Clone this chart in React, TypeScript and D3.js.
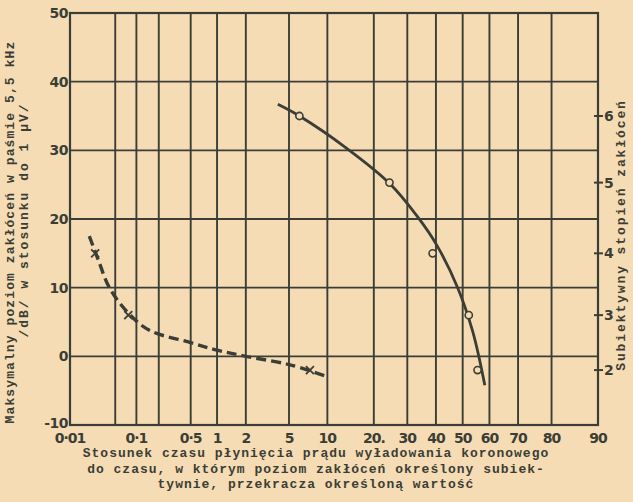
import * as d3 from "d3";

// x axis is a probability (probit) scale, values in percent
const xTicks = [0.01, 0.05, 0.1, 0.2, 0.5, 1, 2, 5, 10, 20, 30, 40, 50, 60, 70, 80, 90];
const xTickLabels: Record<number, string> = {
  0.01: "0·01", 0.1: "0·1", 0.5: "0·5", 1: "1", 2: "2", 5: "5", 10: "10",
  20: "20.", 30: "30", 40: "40", 50: "50", 60: "60", 70: "70", 80: "80", 90: "90",
};
const yTicks = [-10, 0, 10, 20, 30, 40, 50];

// right axis: subjective level -> dB equivalent on left axis
const rightLevels = [2, 3, 4, 5, 6];
const rightDb = [-2, 6, 15, 25.3, 35];

// solid curve (percent, dB)
const solidPct = [4.0, 6.1, 13.6, 24.4, 33.5, 40.3, 48.1, 53.8, 58.3];
const solidDb = [36.7, 35.0, 30.3, 25.2, 20.3, 16.2, 10.0, 3.6, -4.2];
// circles
const circlePct = [6.1, 24.4, 38.8, 52.3, 55.6];
const circleDb = [35, 25.3, 15, 6, -2];

// dashed curve
const dashPct = [0.0203, 0.028, 0.041, 0.077, 0.15, 0.5, 1.0, 2.0, 5.0, 9.5];
const dashDb = [17.5, 14.0, 10.0, 6.3, 3.8, 2.0, 0.9, 0.0, -1.2, -2.8];
// crosses
const crossPct = [0.025, 0.077, 7.4];
const crossDb = [15, 6, -2];

const caption = [
  "Stosunek czasu płynięcia prądu wyładowania koronowego",
  "do czasu, w którym poziom zakłóceń określony subiek-",
  "tywnie, przekracza określoną wartość",
];

// inverse normal CDF (Acklam)
function probit(p: number): number {
  const a = [-39.69683028665376, 220.9460984245205, -275.9285104469687, 138.357751867269, -30.66479806614716, 2.506628277459239];
  const b = [-54.47609879822406, 161.5858368580409, -155.6989798598866, 66.80131188771972, -13.28068155288572];
  const c = [-0.007784894002430293, -0.3223964580411365, -2.400758277161838, -2.549732539343734, 4.374664141464968, 2.938163982698783];
  const d = [0.007784695709041462, 0.3224671290700398, 2.445134137142996, 3.754408661907416];
  const pl = 0.02425;
  if (p < pl) {
    const q = Math.sqrt(-2 * Math.log(p));
    return (((((c[0] * q + c[1]) * q + c[2]) * q + c[3]) * q + c[4]) * q + c[5]) / ((((d[0] * q + d[1]) * q + d[2]) * q + d[3]) * q + 1);
  }
  if (p > 1 - pl) return -probit(1 - p);
  const q = p - 0.5;
  const r = q * q;
  return (((((a[0] * r + a[1]) * r + a[2]) * r + a[3]) * r + a[4]) * r + a[5]) * q / (((((b[0] * r + b[1]) * r + b[2]) * r + b[3]) * r + b[4]) * r + 1);
}

const ink = "#3b3e36";
const paper = "#f6dcb4";

export default function App() {
  const W = 633, H = 502;
  const left = 70, right = 598, top = 13, bottom = 425;

  const xp = d3.scaleLinear().domain([probit(0.0001), probit(0.9)]).range([left, right]);
  const x = (pct: number) => xp(probit(pct / 100));
  const y = d3.scaleLinear().domain([-10, 50]).range([bottom, top]);
  const yRight = d3.scaleLinear().domain(rightLevels).range(rightDb.map((v) => y(v)));

  const solidLine = d3.line<number>().x((_, i) => x(solidPct[i])).y((_, i) => y(solidDb[i])).curve(d3.curveCatmullRom);
  const dashLine = d3.line<number>().x((_, i) => x(dashPct[i])).y((_, i) => y(dashDb[i])).curve(d3.curveCatmullRom);

  const mono = "'Liberation Mono', 'DejaVu Sans Mono', monospace";
  const sans = "'DejaVu Sans', sans-serif";

  return (
    <svg width={W} height={H} style={{ position: "absolute", left: 0, top: 0, background: paper }}>
      <rect width={W} height={H} fill={paper} />
      {/* grid */}
      {xTicks.map((t) => (
        <line key={"gx" + t} x1={x(t)} x2={x(t)} y1={top} y2={bottom} stroke={ink} strokeWidth={1.9} />
      ))}
      {yTicks.map((t) => (
        <line key={"gy" + t} x1={left} x2={right} y1={y(t)} y2={y(t)} stroke={ink} strokeWidth={1.9} />
      ))}
      <rect x={left} y={top} width={right - left} height={bottom - top} fill="none" stroke={ink} strokeWidth={2.2} />

      {/* left ticks */}
      {yTicks.map((t) => (
        <text key={"ly" + t} x={left - 2} y={y(t) - (t === -10 ? 2 : 0)} dy="0.36em" textAnchor="end" fontFamily={sans} fontWeight={700} fontSize={14} fill={ink} letterSpacing={-0.5}>
          {t}
        </text>
      ))}
      {/* bottom ticks */}
      {xTicks.filter((t) => xTickLabels[t] !== undefined).map((t) => (
        <text key={"lx" + t} x={x(t)} y={bottom + 18} textAnchor="middle" fontFamily={sans} fontWeight={700} fontSize={14} fill={ink} letterSpacing={-1}>
          {xTickLabels[t]}
        </text>
      ))}
      {/* right ticks */}
      {rightLevels.map((t) => (
        <g key={"ry" + t}>
          <line x1={right - 4} x2={right + 5} y1={yRight(t)} y2={yRight(t)} stroke={ink} strokeWidth={2} />
          <text x={right + 6} y={yRight(t)} dy="0.36em" fontFamily={sans} fontWeight={700} fontSize={14} fill={ink}>
            {t}
          </text>
        </g>
      ))}

      {/* curves */}
      <path d={solidLine(solidPct) || ""} fill="none" stroke={ink} strokeWidth={2.8} />
      <path d={dashLine(dashPct) || ""} fill="none" stroke={ink} strokeWidth={3.4} strokeDasharray="10,5" />
      {circlePct.map((p, i) => (
        <circle key={"c" + i} cx={x(p)} cy={y(circleDb[i])} r={3.6} fill={paper} stroke={ink} strokeWidth={1.6} />
      ))}
      {crossPct.map((p, i) => (
        <g key={"x" + i} stroke={ink} strokeWidth={1.8}>
          <line x1={x(p) - 4} x2={x(p) + 4} y1={y(crossDb[i]) - 4} y2={y(crossDb[i]) + 4} />
          <line x1={x(p) - 4} x2={x(p) + 4} y1={y(crossDb[i]) + 4} y2={y(crossDb[i]) - 4} />
        </g>
      ))}

      {/* axis titles */}
      <text transform={`translate(14,232) rotate(-90)`} textAnchor="middle" fontFamily={mono} fontWeight={700} fontSize={13} fill={ink} letterSpacing={1.1}>
        Maksymalny poziom zakłóceń w paśmie 5,5 kHz
      </text>
      <text transform={`translate(28,220) rotate(-90)`} textAnchor="middle" fontFamily={mono} fontWeight={700} fontSize={13} fill={ink} letterSpacing={2}>
        /dB/ w stosunku do 1 μV/
      </text>
      <text transform={`translate(625,235) rotate(-90)`} textAnchor="middle" fontFamily={mono} fontWeight={700} fontSize={13} fill={ink} letterSpacing={1.9}>
        Subiektywny stopień zakłóceń
      </text>
      {caption.map((s, i) => (
        <text key={"cap" + i} x={316} y={457 + i * 15.5} textAnchor="middle" fontFamily={mono} fontWeight={700} fontSize={13} fill={ink} letterSpacing={1}>
          {s}
        </text>
      ))}
    </svg>
  );
}
